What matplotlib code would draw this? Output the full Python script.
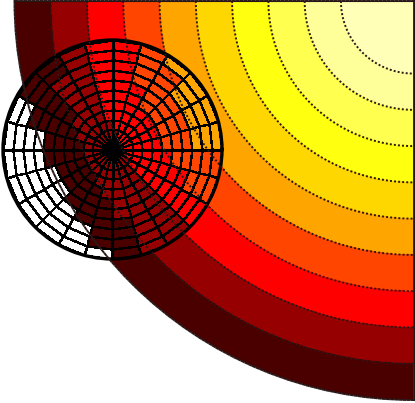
import numpy as np
import matplotlib
matplotlib.use("Agg")
import matplotlib.pyplot as plt
from matplotlib.colors import ListedColormap

W, H = 415, 403

# quarter-disc: radius values where the colour changes (outer radius 11)
r_levels = [0, 2, 3, 4, 5, 6, 7, 8, 9, 10, 11]
band_colors = ['#ffffb8', '#ffff9a', '#ffff50', '#ffff10', '#ffd700',
               '#ffa500', '#ff4500', '#ff0000', '#960000', '#4b0000']
r_max = 11

# small polar grid: 24 sectors of 15 deg, 11 rings
inset_theta_deg = list(range(0, 361, 15))
inset_r_edges = [0, 0.27, 0.55, 0.82, 1.09, 1.36, 1.64, 1.91, 2.18, 2.45, 2.73, 3.0]
# band index per cell (rows = sectors from 0 deg, cols = rings from centre), 10 = blank
inset_bands = [
    [8, 7, 7, 7, 7, 6, 6, 6, 5, 5, 5],
    [8, 7, 7, 7, 7, 6, 6, 6, 5, 5, 5],
    [8, 7, 7, 7, 7, 6, 6, 6, 5, 5, 5],
    [8, 7, 7, 7, 7, 6, 6, 6, 6, 6, 5],
    [8, 7, 7, 7, 7, 7, 7, 6, 6, 6, 6],
    [8, 8, 7, 7, 7, 7, 7, 7, 7, 7, 7],
    [8, 8, 8, 7, 7, 7, 7, 7, 7, 7, 7],
    [8, 8, 8, 8, 8, 8, 8, 8, 8, 8, 8],
    [8, 8, 8, 8, 8, 8, 8, 8, 8, 9, 9],
    [8, 8, 8, 8, 8, 9, 9, 9, 9, 9, 9],
    [8, 8, 8, 8, 9, 9, 9, 9, 9, 10, 10],
    [8, 8, 8, 9, 9, 9, 9, 10, 10, 10, 10],
    [8, 8, 8, 9, 9, 9, 9, 10, 10, 10, 10],
    [8, 8, 8, 9, 9, 9, 10, 10, 10, 10, 10],
    [8, 8, 8, 9, 9, 9, 10, 10, 10, 10, 10],
    [8, 8, 8, 9, 9, 9, 9, 10, 10, 10, 10],
    [8, 8, 8, 8, 9, 9, 9, 9, 10, 10, 10],
    [8, 8, 8, 8, 8, 9, 9, 9, 9, 9, 10],
    [8, 8, 8, 8, 8, 8, 8, 9, 9, 9, 9],
    [8, 8, 8, 8, 8, 8, 8, 8, 8, 8, 8],
    [8, 8, 8, 8, 8, 8, 8, 8, 8, 8, 8],
    [8, 8, 7, 7, 7, 7, 7, 7, 7, 7, 7],
    [8, 7, 7, 7, 7, 7, 7, 7, 6, 6, 6],
    [8, 7, 7, 7, 7, 7, 6, 6, 6, 6, 6],
]

line_col = '#2a1818'
dots = (0, (1, 1.1))


def px(x0, y0, w, h):
    # pixel box (from top-left) -> figure fraction
    return [x0 / W, (H - y0 - h) / H, w / W, h / H]


fig = plt.figure(figsize=(W / 100, H / 100), dpi=100)

th = np.linspace(np.pi, 1.5 * np.pi, 120)
rr = np.linspace(0, r_max, 300)
T, R = np.meshgrid(th, rr)

# filled quarter
ax = fig.add_axes(px(14.5, 1, 399, 399), projection='polar')
ax.set_thetamin(180)
ax.set_thetamax(270)
ax.contourf(T, R, R, levels=r_levels, colors=band_colors)
ax.set_ylim(0, r_max)
ax.set_xticks([])
ax.set_yticks([])
for s in ax.spines.values():
    s.set_visible(False)

# small polar mesh on top
axi = fig.add_axes(px(3, 40, 219, 219), projection='polar')
cmap = ListedColormap(band_colors + ['white'])
axi.pcolormesh(np.deg2rad(inset_theta_deg), inset_r_edges, np.array(inset_bands).T,
               cmap=cmap, vmin=-0.5, vmax=10.5, edgecolors='k', linewidth=1.0)
axi.set_ylim(0, inset_r_edges[-1])
axi.set_xticks([])
axi.set_yticks([])
axi.grid(False)
axi.spines['polar'].set_linewidth(2.4)
axi.spines['polar'].set_color('black')

# dotted contour lines drawn over everything
ax2 = fig.add_axes(px(14.5, 1, 399, 399), projection='polar')
ax2.set_thetamin(180)
ax2.set_thetamax(270)
ax2.patch.set_visible(False)
ax2.contour(T, R, R, levels=r_levels[1:-1], colors=line_col,
            linewidths=1.4, linestyles=[dots])
ax2.set_ylim(0, r_max)
ax2.set_xticks([])
ax2.set_yticks([])
ax2.grid(False)
for name in ['polar', 'start']:
    ax2.spines[name].set_linestyle(dots)
    ax2.spines[name].set_linewidth(1.4)
    ax2.spines[name].set_color(line_col)
ax2.spines['end'].set_color(line_col)
ax2.spines['end'].set_linewidth(1.3)
ax2.spines['inner'].set_visible(False)

fig.savefig("out.png", dpi=100)
